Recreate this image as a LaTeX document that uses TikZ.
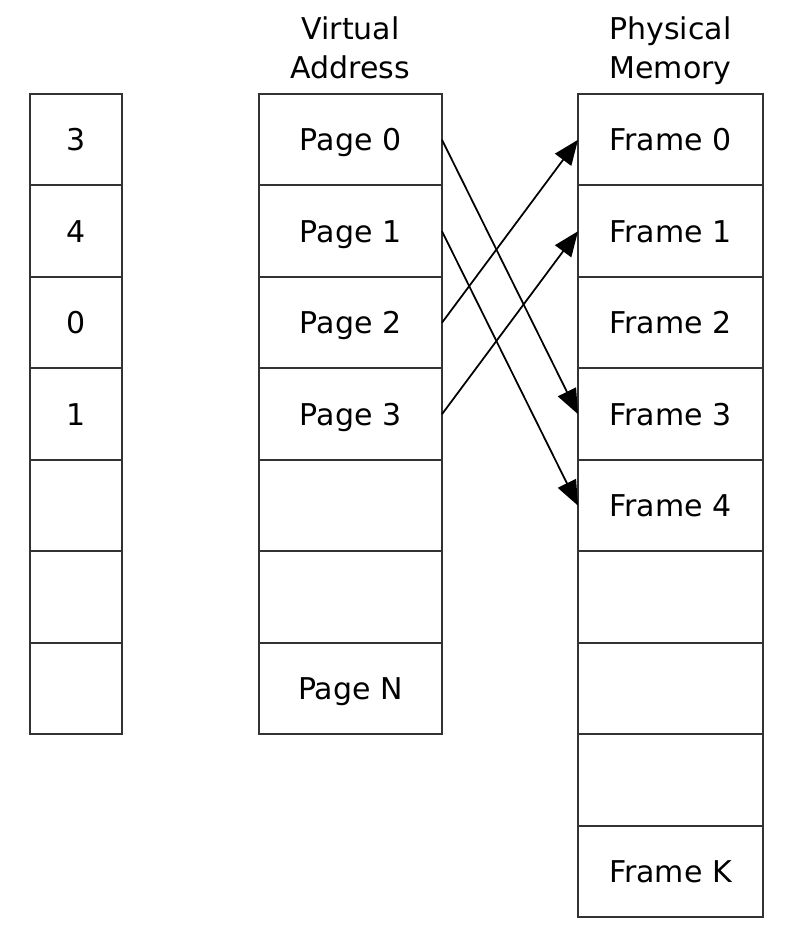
\documentclass[tikz,border=0pt]{standalone}
\usepackage{fontspec}
\setmainfont{DejaVu Sans}
\usetikzlibrary{positioning, arrows.meta}

\tikzset{
  cell/.style = {draw = black!80, line width = 0.04cm, minimum height = 1.83cm,
    inner sep = 0pt, outer sep = 0pt, text height = 12.44pt, text depth = 0pt},
  tcell/.style = {cell, minimum width = 1.84cm},
  pcell/.style = {cell, minimum width = 3.66cm},
  fcell/.style = {cell, minimum width = 3.7cm},
  head/.style = {align = center, inner sep = 0pt, text depth = 0pt},
  map/.style = {-{Triangle[length = 0.5cm, width = 0.4cm]}, line width = 0.035cm}
}

\begin{document}
\begin{tikzpicture}[x = 0.02cm, y = -0.02cm, font = \fontsize{17.07}{22.2}\selectfont]
    \useasboundingbox (0, 0) rectangle (788, 934);

    % page table
    \node [tcell] (t0) at (76, 139.75) {3};
    \node [tcell, below = 0pt of t0] (t1) {4};
    \node [tcell, below = 0pt of t1] (t2) {0};
    \node [tcell, below = 0pt of t2] (t3) {1};
    \node [tcell, below = 0pt of t3] (t4) {};
    \node [tcell, below = 0pt of t4] (t5) {};
    \node [tcell, below = 0pt of t5] (t6) {};

    % virtual address space
    \node [pcell] (p0) at (350.5, 139.75) {Page 0};
    \node [pcell, below = 0pt of p0] (p1) {Page 1};
    \node [pcell, below = 0pt of p1] (p2) {Page 2};
    \node [pcell, below = 0pt of p2] (p3) {Page 3};
    \node [pcell, below = 0pt of p3] (p4) {};
    \node [pcell, below = 0pt of p4] (p5) {};
    \node [pcell, below = 0pt of p5] (pN) {Page N};
    \node [head, above = 0.3cm of p0] (vhead) {Virtual\\Address};

    % physical memory
    \node [fcell] (f0) at (670.5, 139.75) {Frame 0};
    \node [fcell, below = 0pt of f0] (f1) {Frame 1};
    \node [fcell, below = 0pt of f1] (f2) {Frame 2};
    \node [fcell, below = 0pt of f2] (f3) {Frame 3};
    \node [fcell, below = 0pt of f3] (f4) {Frame 4};
    \node [fcell, below = 0pt of f4] (f5) {};
    \node [fcell, below = 0pt of f5] (f6) {};
    \node [fcell, below = 0pt of f6] (f7) {};
    \node [fcell, below = 0pt of f7] (fK) {Frame K};
    \node [head, above = 0.3cm of f0] (fhead) {Physical\\Memory};

    \draw [map] (p0.east) -- (f3.west);
    \draw [map] (p1.east) -- (f4.west);
    \draw [map] (p2.east) -- (f0.west);
    \draw [map] (p3.east) -- (f1.west);
  \end{tikzpicture}
\end{document}
